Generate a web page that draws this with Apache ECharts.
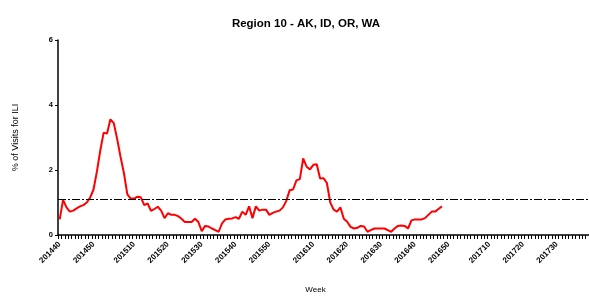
<!DOCTYPE html>
<html>
<head>
<meta charset="utf-8">
<script src="https://cdn.jsdelivr.net/npm/echarts@6/dist/echarts.min.js"></script>
<style>
  html, body { margin: 0; padding: 0; background: #fff; }
  #chart { width: 589px; height: 297px; }
</style>
</head>
<body>
<div id="chart"></div>
<script>
// season weeks: 2014 wk40 .. 2017 wk39 (2015 has 53 weeks)
var seasonYears = [2014, 2015, 2016, 2017];
var firstWeek = [40, 1, 1, 1];
var lastWeek = [52, 53, 52, 39];

// % of visits for ILI, 201440 onward
var iliValues = [
    0.48, 1.08, 0.85, 0.72, 0.75, 0.82, 0.88, 0.92, 1.0, 1.15,
    1.4, 1.95, 2.6, 3.15, 3.12, 3.56, 3.44, 2.95, 2.4, 1.9,
    1.25, 1.12, 1.12, 1.18, 1.16, 0.92, 0.97, 0.74, 0.8, 0.87,
    0.75, 0.52, 0.67, 0.62, 0.62, 0.58, 0.5, 0.4, 0.4, 0.4,
    0.5, 0.4, 0.12, 0.28, 0.26, 0.2, 0.15, 0.1, 0.36, 0.48,
    0.5, 0.51, 0.55, 0.5, 0.72, 0.62, 0.88, 0.52, 0.88, 0.75,
    0.78, 0.78, 0.62, 0.68, 0.72, 0.75, 0.85, 1.05, 1.38, 1.4,
    1.68, 1.72, 2.36, 2.1, 2.02, 2.16, 2.18, 1.74, 1.75, 1.6,
    1.0, 0.78, 0.72, 0.85, 0.5, 0.41, 0.25, 0.2, 0.22, 0.28,
    0.26, 0.1, 0.15, 0.2, 0.2, 0.2, 0.2, 0.15, 0.1, 0.2,
    0.28, 0.29, 0.28, 0.2, 0.45, 0.48, 0.48, 0.48, 0.52, 0.62,
    0.72, 0.72, 0.8, 0.88
];

var baseline = 1.1;
var yTicks = [0, 2, 4, 6];

var weeks = [];
for (var y = 0; y < seasonYears.length; y++) {
    for (var w = firstWeek[y]; w <= lastWeek[y]; w++) {
        weeks.push(seasonYears[y] + (w < 10 ? "0" : "") + w);
    }
}

var chart = echarts.init(document.getElementById("chart"));
var fontFamily = "Liberation Sans, Arial, sans-serif";

chart.setOption({
    animation: false,
    title: {
        text: "Region 10 - AK, ID, OR, WA",
        left: 301,
        textAlign: "center",
        top: 13,
        textStyle: { fontFamily: fontFamily, fontSize: 11.5, fontWeight: "bold", color: "#000" }
    },
    grid: { left: 58, right: 0, top: 40, bottom: 62, outerBoundsMode: "none" },
    xAxis: {
        type: "category",
        data: weeks,
        boundaryGap: true,
        name: "Week",
        nameLocation: "middle",
        nameGap: 51,
        nameTextStyle: { fontFamily: fontFamily, fontSize: 8, color: "#000", padding: [0, 16, 0, 0] },
        axisLine: { lineStyle: { color: "#000", width: 1.5 } },
        axisTick: { show: true, interval: 0, length: 4, lineStyle: { color: "#000", width: 1 } },
        axisLabel: {
            interval: function (idx, val) { return Number(String(val).slice(4)) % 10 === 0; },
            rotate: 45,
            fontFamily: fontFamily,
            fontSize: 8,
            fontWeight: "bold",
            color: "#000",
            margin: 8
        },
        splitLine: { show: false }
    },
    yAxis: {
        type: "value",
        min: yTicks[0],
        max: yTicks[yTicks.length - 1],
        interval: 2,
        name: "% of Visits for ILI",
        nameLocation: "middle",
        nameRotate: 90,
        nameGap: 38,
        nameTextStyle: { fontFamily: fontFamily, fontSize: 9, color: "#000" },
        axisLine: { show: true, lineStyle: { color: "#000", width: 1.5 } },
        axisTick: { show: true, length: 3, lineStyle: { color: "#000" } },
        axisLabel: { fontFamily: fontFamily, fontSize: 7.5, fontWeight: "bold", color: "#000", margin: 5 },
        splitLine: { show: false }
    },
    series: [{
        type: "line",
        data: iliValues,
        symbol: "none",
        lineStyle: { color: "#ff0000", width: 2 },
        markLine: {
            silent: true,
            symbol: "none",
            label: { show: false },
            lineStyle: { color: "#000", width: 1.2, type: [8, 2, 2, 2] },
            data: [{ yAxis: baseline }]
        }
    }]
});
</script>
</body>
</html>
